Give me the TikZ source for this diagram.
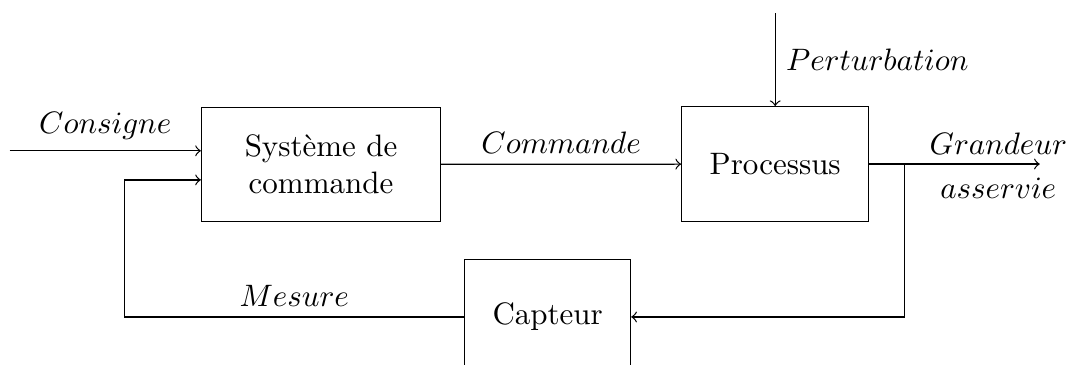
\documentclass[tikz,border=0pt]{standalone}
\usetikzlibrary{arrows, positioning, calc}

\begin{document}
\begin{tikzpicture}[>= to, auto]
          \tikzstyle{bloc}=[rectangle, draw=black, minimum height=1.3cm, align=center]
          \useasboundingbox (0,0) rectangle (12.11,-4.13);

          \node[bloc, minimum width=2.71cm] at (3.64,-1.865) (sys) {Système de\\commande};
          \node[bloc, minimum width=2.12cm] at (8.79,-1.86) (proc) {Processus};
          \node[bloc, minimum width=1.88cm] at (6.21,-3.594) (capt) {Capteur};

          \coordinate (in) at (0.11,-1.71);
          \coordinate (pert) at (8.79,-0.15);
          \coordinate (out) at (11.79,-1.86);
          \coordinate (branch) at (10.26,-1.86);
          \coordinate (retour) at (1.41,-2.04);

          \path (in) edge[->] node {$Consigne$} (in -| sys.west);
          \path (sys) edge[->] node {$Commande$} (proc);
          \path (pert) edge[->] node {$Perturbation$} (proc.north);
          \path (proc.east) edge[->] (out);
          \node[align=center] (grandeur) at (11.32,-1.88) {$Grandeur$\\[2pt]$asservie$};

          % boucle de retour
          \draw[->] (branch) |- (capt.east);
          \draw[->] (capt.west) -| node[pos=0.25, above] {$Mesure$} (retour) -- (retour -| sys.west);

        \end{tikzpicture}
\end{document}
